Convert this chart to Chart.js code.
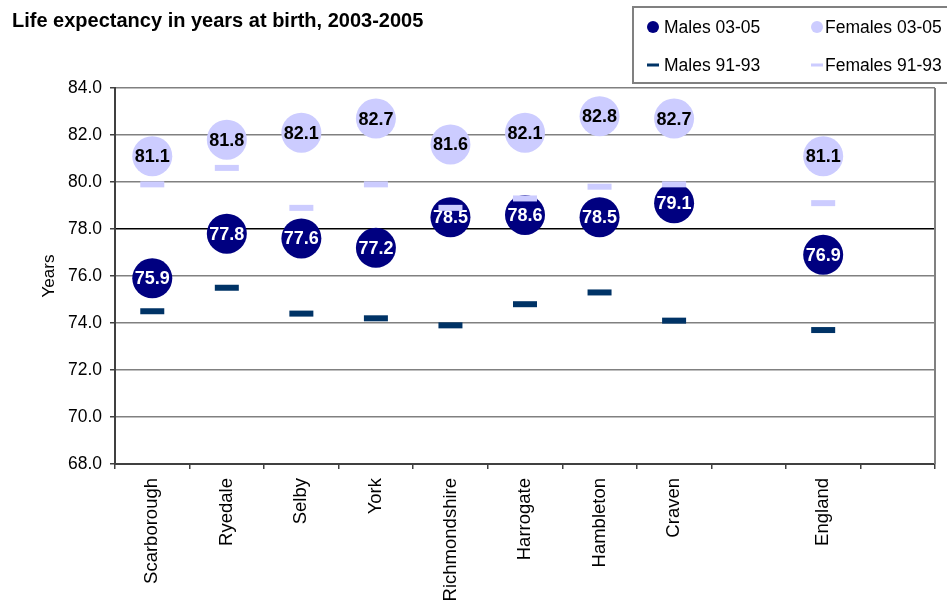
<!DOCTYPE html>
<html>
<head>
<meta charset="utf-8">
<script src="https://cdn.jsdelivr.net/npm/chart.js@4/dist/chart.umd.min.js"></script>
<style>
  html, body { margin: 0; padding: 0; background: #fff; }
  #wrap { width: 947px; height: 610px; position: relative; }
</style>
</head>
<body>
<div id="wrap"><canvas id="lifeChart"></canvas></div>
<script>
// 地区与预期寿命数据
const districts = ['Scarborough', 'Ryedale', 'Selby', 'York', 'Richmondshire', 'Harrogate', 'Hambleton', 'Craven', '', 'England', ''];
const males0305 = [75.9, 77.8, 77.6, 77.2, 78.5, 78.6, 78.5, 79.1, null, 76.9, null];
const females0305 = [81.1, 81.8, 82.1, 82.7, 81.6, 82.1, 82.8, 82.7, null, 81.1, null];
const males9193 = [74.5, 75.5, 74.4, 74.2, 73.9, 74.8, 75.3, 74.1, null, 73.7, null];
const females9193 = [79.9, 80.6, 78.9, 79.9, 78.9, 79.3, 79.8, 79.9, null, 79.1, null];
const yTicks = [68, 70, 72, 74, 76, 78, 80, 82, 84];

const FONT = '"Liberation Sans", Arial, sans-serif';

// 圆点内的数值
const bubbleLabels = {
  id: 'bubbleLabels',
  afterDatasetDraw(chart, args) {
    const ds = chart.data.datasets[args.index];
    if (!ds.labelColor) return;
    const ctx = chart.ctx;
    ctx.save();
    ctx.font = 'bold 18px ' + FONT;
    ctx.fillStyle = ds.labelColor;
    ctx.textAlign = 'center';
    ctx.textBaseline = 'middle';
    args.meta.data.forEach((pt, i) => {
      const v = ds.data[i];
      if (v == null) return;
      ctx.fillText(v.toFixed(1), pt.x, pt.y + 1);
    });
    ctx.restore();
  }
};

// 标题、图例和右边框
const frame = {
  id: 'frame',
  afterDraw(chart) {
    const ctx = chart.ctx;
    const area = chart.chartArea;
    ctx.save();
    ctx.strokeStyle = '#808080';
    ctx.lineWidth = 2;
    ctx.beginPath();
    ctx.moveTo(area.right, area.top);
    ctx.lineTo(area.right, area.bottom);
    ctx.stroke();

    ctx.fillStyle = '#000';
    ctx.font = 'bold 20px ' + FONT;
    ctx.textBaseline = 'alphabetic';
    ctx.fillText('Life expectancy in years at birth, 2003-2005', 12, 27);

    ctx.strokeRect(633, 7, 330, 76);
    const markX = [653, 817], textX = [664, 825], rowY = [27, 65];
    ctx.font = '17.5px ' + FONT;
    chart.data.datasets.forEach((ds, i) => {
      const x = markX[i % 2], y = rowY[Math.floor(i / 2)];
      if (ds.pointStyle === 'circle') {
        ctx.fillStyle = ds.backgroundColor;
        ctx.beginPath();
        ctx.arc(x, y, 6, 0, Math.PI * 2);
        ctx.fill();
      } else {
        ctx.fillStyle = ds.borderColor;
        ctx.fillRect(x - 6, y - 1.5, 12, 3);
      }
      ctx.fillStyle = '#000';
      ctx.fillText(ds.label, textX[i % 2], y + 6);
    });
    ctx.restore();
  }
};

new Chart(document.getElementById('lifeChart'), {
  type: 'line',
  data: {
    labels: districts,
    datasets: [
      { label: 'Males 03-05', data: males0305, pointStyle: 'circle', pointRadius: 20,
        backgroundColor: '#000080', borderColor: '#000080', pointBorderWidth: 0,
        labelColor: '#fff', order: 2 },
      { label: 'Females 03-05', data: females0305, pointStyle: 'circle', pointRadius: 20,
        backgroundColor: '#ccccff', borderColor: '#ccccff', pointBorderWidth: 0,
        labelColor: '#000', order: 2 },
      { label: 'Males 91-93', data: males9193, pointStyle: 'line', pointRadius: 12,
        borderColor: '#003366', backgroundColor: '#003366', pointBorderWidth: 6, order: 1 },
      { label: 'Females 91-93', data: females9193, pointStyle: 'line', pointRadius: 12,
        borderColor: '#ccccff', backgroundColor: '#ccccff', pointBorderWidth: 6, order: 1 }
    ]
  },
  options: {
    responsive: true,
    maintainAspectRatio: false,
    animation: false,
    showLine: false,
    clip: false,
    events: [],
    layout: { autoPadding: false, padding: { top: 88, right: 12, left: 0, bottom: 0 } },
    plugins: { legend: { display: false }, title: { display: false }, tooltip: { enabled: false } },
    scales: {
      x: {
        offset: true,
        grid: { offset: true, drawOnChartArea: false, drawTicks: true, tickLength: 5, color: '#404040', lineWidth: 1.5 },
        border: { color: '#404040', width: 2 },
        ticks: { autoSkip: false, minRotation: 90, maxRotation: 90, padding: 9, color: '#000',
                 font: { family: FONT, size: 18.5 } },
        afterFit(scale) { scale.height = 146; }
      },
      y: {
        min: 68,
        max: 84,
        afterBuildTicks(scale) { scale.ticks = yTicks.map(v => ({ value: v })); },
        grid: {
          color: ctx => ctx.tick && ctx.tick.value === 78 ? '#000' : '#808080',
          lineWidth: 1.5,
          tickLength: 5,
          tickColor: '#404040'
        },
        border: { color: '#404040', width: 2 },
        ticks: { padding: 8, color: '#000', font: { family: FONT, size: 17.5 },
                 callback: v => Number(v).toFixed(1) },
        title: { display: true, text: 'Years', color: '#000', font: { family: FONT, size: 17 },
                 padding: { top: 39, bottom: 0 } },
        afterFit(scale) { scale.width = 115; }
      }
    }
  },
  plugins: [bubbleLabels, frame]
});
</script>
</body>
</html>
